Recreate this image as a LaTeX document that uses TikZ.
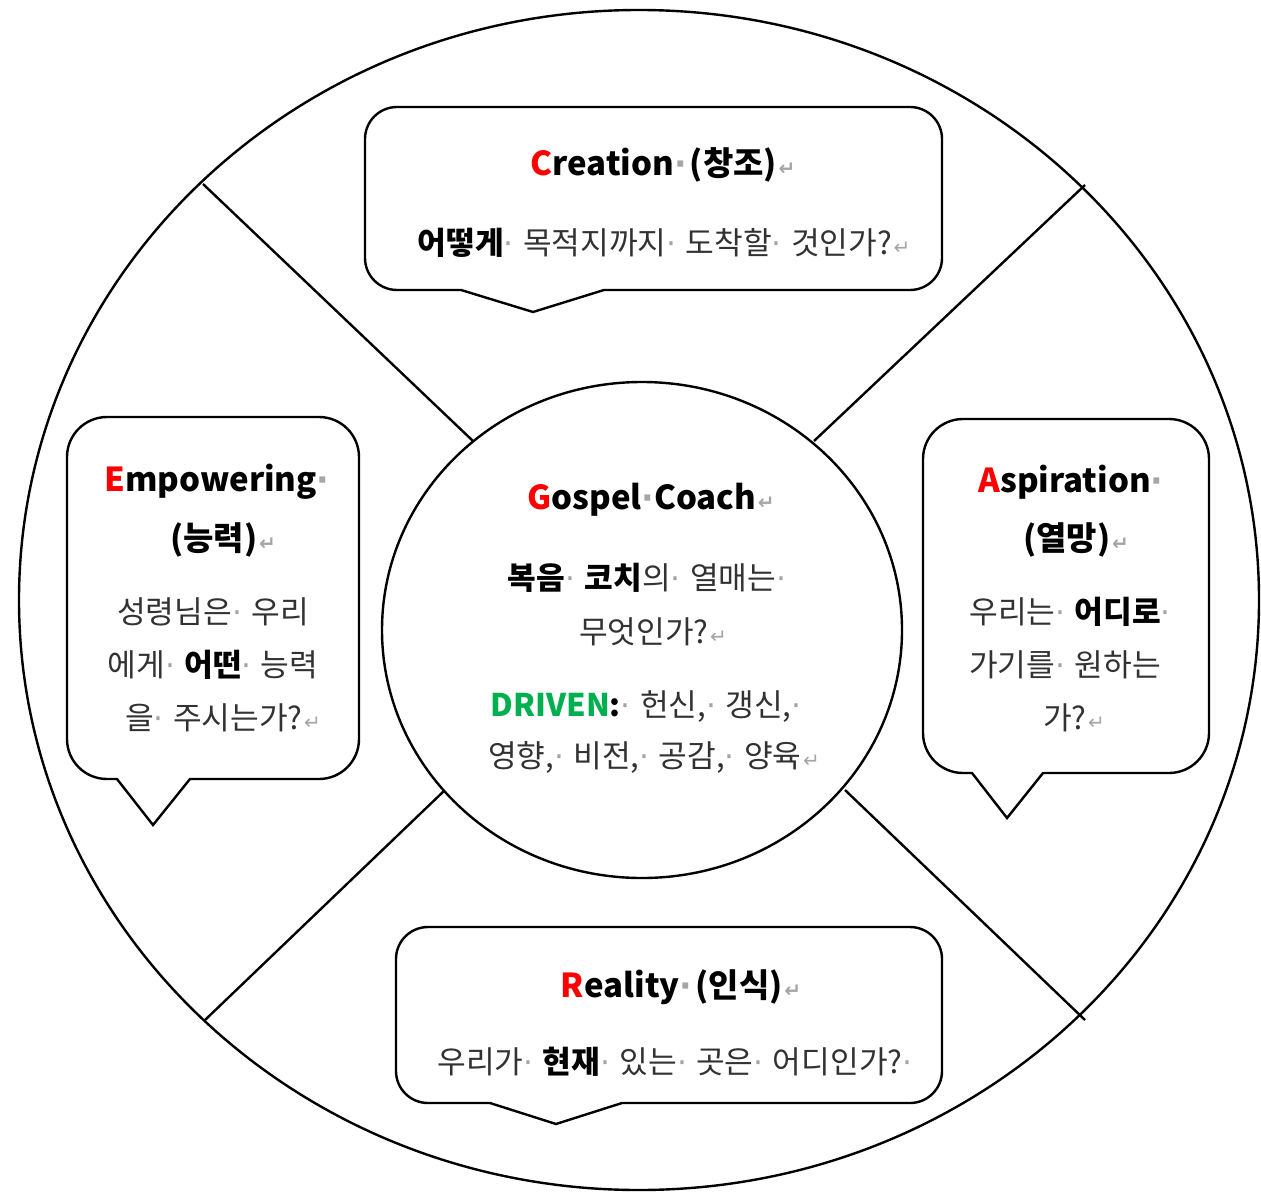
\documentclass[tikz,border=0pt]{standalone}
\usepackage{fontspec}
\usepackage{xcolor}
\setmainfont{Noto Sans CJK KR}
\newfontfamily\markfont{DejaVu Sans}

\definecolor{capred}{RGB}{255,0,0}
\definecolor{drivegreen}{RGB}{0,176,80}
\definecolor{bodygray}{RGB}{50,50,50}
\definecolor{markgray}{RGB}{165,165,165}

% word marks as the picture shows them
\newcommand{\wdot}{{\markfont\color{markgray}·}}
\newcommand{\wsp}{\wdot\hspace{0.3em}}
\newcommand{\retm}{\hspace{0.05em}{\markfont\fontsize{10}{12}\selectfont\color{markgray}↵}}
\newcommand{\bw}[1]{{\bfseries\color{black}#1}}

\tikzset{
  bubble/.style={draw, line width=1.2pt, fill=white},
  ttl/.style={inner sep=0pt, font=\fontsize{16.5}{20}\selectfont\bfseries},
  txt/.style={inner sep=0pt, text=bodygray, font=\fontsize{15.6}{18}\selectfont}
}

\begin{document}
\begin{tikzpicture}[x=0.5pt, y=-0.5pt, line width=1.2pt]
\useasboundingbox (0,0) rectangle (1261,1192);

% wheel, hub and spokes
\coordinate (wheel) at (639,600);
\coordinate (hub) at (642,630);
\draw (wheel) ellipse [x radius=620, y radius=590];

\coordinate (ul-o) at (203,184);  \coordinate (ul-i) at (473,441);
\coordinate (ur-o) at (1085,185); \coordinate (ur-i) at (814,441);
\coordinate (ll-o) at (205,1020); \coordinate (ll-i) at (445,790);
\coordinate (lr-o) at (1085,1020); \coordinate (lr-i) at (845,790);
\draw (ul-o) -- (ul-i);
\draw (ur-o) -- (ur-i);
\draw (ll-o) -- (ll-i);
\draw (lr-o) -- (lr-i);

\draw[fill=white] (hub) ellipse [x radius=260, y radius=248];

% speech bubbles
\draw[bubble] (461,290) [rounded corners=16pt] -- (365,290) -- (365,107) -- (942,107) -- (942,290) [sharp corners] -- (604,290) -- (533,312) -- cycle;
\draw[bubble] (117,779) [rounded corners=20pt] -- (67,779) -- (67,417) -- (359,417) -- (359,779) [sharp corners] -- (190,779) -- (153,825) -- cycle;
\draw[bubble] (972,773) [rounded corners=20pt] -- (923,773) -- (923,419) -- (1209,419) -- (1209,773) [sharp corners] -- (1043,773) -- (1007,818) -- cycle;
\draw[bubble] (490,1103) [rounded corners=16pt] -- (396,1103) -- (396,927) -- (942,927) -- (942,1103) [sharp corners] -- (622,1103) -- (556,1124) -- cycle;

% Creation
\node[ttl] (cre-t) at (663,165) {{\color{capred}C}reation\wdot\hspace{0.1em}(창조)\retm};
\node[txt] (cre-q) at (664,243) {\bw{어떻게}\wsp 목적지까지\wsp 도착할\wsp 것인가?\retm};

% Empowering
\node[ttl] (emp-t) at (217,482) {{\color{capred}E}mpowering\wdot};
\node[ttl] (emp-p) at (223,540) {(능력)\retm};
\node[txt] (emp-1) at (213,612) {성령님은\wsp 우리};
\node[txt] (emp-2) at (213,665) {에게\wsp\bw{어떤}\wsp 능력};
\node[txt] (emp-3) at (223,718) {을\wsp 주시는가?\retm};

% Aspiration
\node[ttl] (asp-t) at (1071,482) {{\color{capred}A}spiration\wdot};
\node[ttl] (asp-p) at (1076,540) {(열망)\retm};
\node[txt] (asp-1) at (1070,612) {우리는\wsp\bw{어디로}\wdot};
\node[txt] (asp-2) at (1065,665) {가기를\wsp 원하는};
\node[txt] (asp-3) at (1074,718) {가?\retm};

% Gospel Coach
\node[ttl] (gos-t) at (651,500) {{\color{capred}G}ospel\wdot Coach\retm};
\node[txt] (gos-1) at (647,578) {\bw{복음}\wsp\bw{코치}의\wsp 열매는\wdot};
\node[txt] (gos-2) at (653,632) {무엇인가?\retm};
\node[txt] (gos-3) at (646,707) {{\bfseries\color{drivegreen}DRIVEN}\bw{:}\wsp 헌신,\wsp 갱신,\wdot};
\node[txt] (gos-4) at (654,757) {영향,\wsp 비전,\wsp 공감,\wsp 양육\retm};

% Reality
\node[ttl] (rea-t) at (681,987) {{\color{capred}R}eality\wdot\hspace{0.1em}(인식)\retm};
\node[txt] (rea-q) at (675,1062) {우리가\wsp\bw{현재}\wsp 있는\wsp 곳은\wsp 어디인가?\wdot};

\end{tikzpicture}
\end{document}
